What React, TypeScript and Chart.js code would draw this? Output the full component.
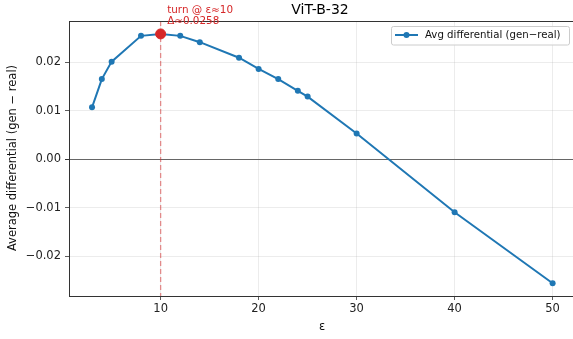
import React, { useEffect, useRef } from "react";
import { Chart, registerables } from "chart.js";

Chart.register(...registerables);

const epsilons = [3, 4, 5, 8, 10, 12, 14, 18, 20, 22, 24, 25, 30, 40, 50];
const avgDiff = [0.0107, 0.0165, 0.0201, 0.0254, 0.0258, 0.0254, 0.0241, 0.0209, 0.0186, 0.0165, 0.0141, 0.0129, 0.0053, -0.0109, -0.0255];
const xTicks = [10, 20, 30, 40, 50];
const yTicks = [-0.02, -0.01, 0, 0.01, 0.02];
const turnEps = 10;
const turnValue = 0.0258;
const titleText = "ViT-B-32";
const xLabel = "ε";
const yLabel = "Average differential (gen − real)";
const seriesLabel = "Avg differential (gen−real)";

const FONT = "DejaVu Sans";
const BLUE = "#1f77b4";
const RED = "#d62728";

const fmtY = (v: number) => {
  const s = Math.abs(v).toFixed(2);
  return v < -1e-9 ? "\u2212" + s : s;
};

const overlayPlugin = {
  id: "overlay",
  beforeDatasetsDraw(chart: any) {
    const { ctx, chartArea, scales } = chart;
    const x = scales.x.getPixelForValue(turnEps);
    ctx.save();
    ctx.strokeStyle = "rgba(214,39,40,0.5)";
    ctx.lineWidth = 1.3;
    ctx.setLineDash([5, 3]);
    ctx.beginPath();
    ctx.moveTo(x, chartArea.top);
    ctx.lineTo(x, chartArea.bottom);
    ctx.stroke();
    ctx.restore();
  },
  afterDraw(chart: any) {
    const { ctx, chartArea, scales } = chart;
    ctx.save();
    // top spine
    ctx.strokeStyle = "#333";
    ctx.lineWidth = 1;
    ctx.beginPath();
    ctx.moveTo(chartArea.left, chartArea.top + 0.5);
    ctx.lineTo(chartArea.right, chartArea.top + 0.5);
    ctx.stroke();

    // title
    ctx.fillStyle = "#000";
    ctx.font = `14px '${FONT}'`;
    ctx.textAlign = "center";
    ctx.textBaseline = "middle";
    ctx.fillText(titleText, 320, 10);

    // x label
    ctx.font = `11.5px '${FONT}'`;
    ctx.fillStyle = "#111";
    ctx.fillText(xLabel, 322, 327);

    // y label
    ctx.save();
    ctx.translate(13, 158);
    ctx.rotate(-Math.PI / 2);
    ctx.fillText(yLabel, 0, 0);
    ctx.restore();

    // annotation text
    const ax = scales.x.getPixelForValue(turnEps);
    ctx.fillStyle = RED;
    ctx.textAlign = "left";
    ctx.textBaseline = "alphabetic";
    ctx.font = `10.4px '${FONT}'`;
    ctx.fillText(`turn @ ε≈${turnEps}`, ax + 6.5, 12.5);
    ctx.fillText(`Δ≈${turnValue.toFixed(4)}`, ax + 6.5, 24);

    // legend
    const lx = 391.5, ly = 26.5, lw = 178, lh = 18.5;
    ctx.fillStyle = "rgba(255,255,255,0.85)";
    ctx.strokeStyle = "#cccccc";
    ctx.lineWidth = 1;
    ctx.beginPath();
    const r = 2;
    ctx.moveTo(lx + r, ly);
    ctx.lineTo(lx + lw - r, ly);
    ctx.arcTo(lx + lw, ly, lx + lw, ly + r, r);
    ctx.lineTo(lx + lw, ly + lh - r);
    ctx.arcTo(lx + lw, ly + lh, lx + lw - r, ly + lh, r);
    ctx.lineTo(lx + r, ly + lh);
    ctx.arcTo(lx, ly + lh, lx, ly + lh - r, r);
    ctx.lineTo(lx, ly + r);
    ctx.arcTo(lx, ly, lx + r, ly, r);
    ctx.closePath();
    ctx.fill();
    ctx.stroke();
    ctx.strokeStyle = BLUE;
    ctx.lineWidth = 2;
    ctx.beginPath();
    ctx.moveTo(395, 35);
    ctx.lineTo(418, 35);
    ctx.stroke();
    ctx.fillStyle = BLUE;
    ctx.beginPath();
    ctx.arc(406.5, 35, 3, 0, Math.PI * 2);
    ctx.fill();
    ctx.fillStyle = "#111";
    ctx.font = `10.2px '${FONT}'`;
    ctx.textBaseline = "middle";
    ctx.fillText(seriesLabel, 425, 35);
    ctx.restore();
  },
};

export default function App() {
  const ref = useRef<HTMLCanvasElement | null>(null);
  useEffect(() => {
    if (!ref.current) return;
    const chart = new Chart(ref.current, {
      type: "line",
      data: {
        datasets: [
          {
            label: "turn",
            data: [{ x: turnEps, y: turnValue }],
            showLine: false,
            pointRadius: 5,
            pointBackgroundColor: RED,
            pointBorderColor: RED,
            borderColor: RED,
            backgroundColor: RED,
            order: 0,
          },
          {
            label: seriesLabel,
            data: epsilons.map((e, i) => ({ x: e, y: avgDiff[i] })),
            borderColor: BLUE,
            backgroundColor: BLUE,
            borderWidth: 2,
            pointRadius: 3,
            pointBackgroundColor: BLUE,
            pointBorderColor: BLUE,
            pointBorderWidth: 0,
            tension: 0,
            order: 1,
          },
        ],
      },
      options: {
        responsive: false,
        animation: false,
        events: [],
        layout: { autoPadding: false, padding: { top: 21, left: 0, right: 0, bottom: 0 } },
        plugins: {
          legend: { display: false },
          title: { display: false },
          tooltip: { enabled: false },
        },
        scales: {
          x: {
            type: "linear",
            min: 0.65,
            max: 52.08,
            afterBuildTicks: (s: any) => {
              s.ticks = xTicks.map((v) => ({ value: v }));
            },
            afterFit: (s: any) => {
              s.height = 43;
              s.paddingLeft = 0;
              s.paddingRight = 0;
            },
            ticks: {
              font: { family: FONT, size: 11.5 },
              color: "#222",
              padding: 2,
              maxRotation: 0,
              callback: (v: any) => String(v),
            },
            grid: {
              color: "rgba(176,176,176,0.3)",
              lineWidth: 0.8,
              tickLength: 4,
              tickColor: "#333",
            },
            border: { color: "#333", width: 1 },
          },
          y: {
            type: "linear",
            min: -0.02813,
            max: 0.02846,
            afterBuildTicks: (s: any) => {
              s.ticks = yTicks.map((v) => ({ value: v }));
            },
            afterFit: (s: any) => {
              s.width = 69;
              s.paddingTop = 0;
              s.paddingBottom = 0;
            },
            ticks: {
              font: { family: FONT, size: 11.5 },
              color: "#222",
              padding: 4,
              callback: (v: any) => fmtY(Number(v)),
            },
            grid: {
              color: (c: any) => (c.tick && Math.abs(c.tick.value) < 1e-9 ? "#666" : "rgba(176,176,176,0.3)"),
              lineWidth: (c: any) => (c.tick && Math.abs(c.tick.value) < 1e-9 ? 1 : 0.8),
              tickLength: 4,
              tickColor: "#333",
            },
            border: { color: "#333", width: 1 },
          },
        },
      } as any,
      plugins: [overlayPlugin],
    });
    return () => chart.destroy();
  }, []);
  return (
    <div style={{ position: "fixed", left: 0, top: 0, width: 573, height: 339, background: "#fff" }}>
      <canvas ref={ref} width={573} height={339} style={{ display: "block" }} />
    </div>
  );
}
